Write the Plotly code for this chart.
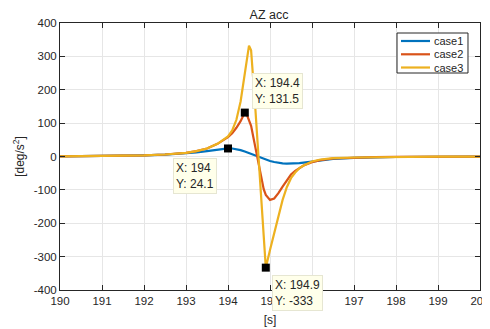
import plotly.graph_objects as go

# ---- data ----
t = [190, 191, 192, 192.5, 193, 193.25, 193.5, 193.75, 194, 194.1, 194.2, 194.3,
     194.4, 194.45, 194.5, 194.55, 194.6, 194.65, 194.7, 194.75, 194.8, 194.85,
     194.9, 195, 195.1, 195.2, 195.3, 195.4, 195.5, 195.6, 195.7, 195.8, 196,
     196.2, 196.5, 197, 197.5, 198, 199, 200]

case1 = [0.5, 1.5, 3.5, 5.5, 9, 12, 16, 21, 24.1, 24, 22, 19,
         15, 12.5, 10, 7.5, 5, 2.5, 0, -2.5, -5, -7.5,
         -10, -13.5, -16.5, -19, -20.5, -21.5, -21.5, -21, -20, -18.5, -15,
         -11.5, -7.5, -4, -2.5, -1.5, -0.7, -0.3]

case2 = [0.5, 1.5, 3.5, 6, 11, 16, 24, 38, 58, 70, 86, 106,
         131.5, 125, 110, 92, 60, 28, 0, -35, -70, -98,
         -115, -130, -126, -110, -90, -70, -54, -43, -34, -27, -17,
         -11, -6, -3, -2, -1.2, -0.6, -0.3]

case3 = [0.5, 1.5, 3.5, 6, 11, 16, 24, 38, 60, 78, 110, 165,
         255, 300, 332, 318, 241, 146, 50, -45, -141, -237,
         -333, -280, -230, -180, -130, -92, -65, -48, -35, -27, -15,
         -9, -5, -3, -2, -1.2, -0.6, -0.3]

series_names = ["case1", "case2", "case3"]
series_colors = ["#0072BD", "#D95319", "#EDB120"]

tip_x = [194, 194.4, 194.9]
tip_y = [24.1, 131.5, -333]
tip_box_x = [192.69, 194.56, 195.04]
tip_box_y = [-4, 250, -355]

x_ticks = list(range(190, 201))
x_ticktext = [str(v) for v in x_ticks]
y_ticks = list(range(-400, 401, 100))
y_ticktext = [str(v) for v in y_ticks]

FONT = "Liberation Sans, Arial, sans-serif"
INK = "#262626"

fig = go.Figure()
for name, vals, col in zip(series_names, [case1, case2, case3], series_colors):
    fig.add_trace(go.Scatter(x=t, y=vals, mode="lines", name=name, showlegend=False,
                             line=dict(color=col, width=2.2)))

fig.add_trace(go.Scatter(x=tip_x, y=tip_y, mode="markers", showlegend=False,
                         marker=dict(symbol="square", size=8, color="black")))

for bx, by, px, py in zip(tip_box_x, tip_box_y, tip_x, tip_y):
    fig.add_annotation(x=bx, y=by, xref="x", yref="y", xanchor="left", yanchor="top",
                       text=f"X: {px:g}<br>Y: {py:g}", showarrow=False, align="left",
                       bgcolor="#FFFFEA", bordercolor="#E6E6D2", borderwidth=1, borderpad=2,
                       font=dict(family=FONT, size=12, color=INK))

# ---- legend box (MATLAB style, compact rows) ----
fig.add_shape(type="rect", xref="paper", yref="paper", x0=0.8024, x1=0.9714,
              y0=0.8127, y1=0.9625, line=dict(color=INK, width=1), fillcolor="white",
              layer="above")
row_y = [0.9326, 0.8828, 0.8333]
for name, col, ry in zip(series_names, series_colors, row_y):
    fig.add_shape(type="line", xref="paper", yref="paper", x0=0.8119, x1=0.881,
                  y0=ry, y1=ry, line=dict(color=col, width=2.2), layer="above")
    fig.add_annotation(x=0.8857, y=ry, xref="paper", yref="paper", xanchor="left",
                       yanchor="middle", text=name, showarrow=False,
                       font=dict(family=FONT, size=11, color=INK))

axis_common = dict(showline=True, linecolor=INK, linewidth=1, mirror="ticks",
                   ticks="inside", ticklen=5, tickcolor=INK,
                   showgrid=True, gridcolor="#E6E6E6", gridwidth=1, zeroline=False,
                   tickfont=dict(family=FONT, size=11.5, color=INK))

fig.update_xaxes(range=[190, 200], tickvals=x_ticks, ticktext=x_ticktext,
                 title=dict(text="[s]", standoff=9, font=dict(family=FONT, size=12, color=INK)),
                 **axis_common)
fig.update_yaxes(range=[-400, 400], tickvals=y_ticks, ticktext=y_ticktext,
                 title=dict(text="[deg/s<sup>2</sup>]", standoff=6,
                            font=dict(family=FONT, size=12, color=INK)),
                 **axis_common)

fig.update_layout(
    width=482, height=321,
    margin=dict(l=52, r=10, t=15, b=39, autoexpand=False),
    paper_bgcolor="white", plot_bgcolor="white",
    title=dict(text="AZ acc", x=0.5415, xanchor="center", y=1 - 6.5 / 321, yanchor="middle",
               yref="container", font=dict(family=FONT, size=12.5, color=INK)),
    showlegend=False,
)

fig.write_html("out.html")
